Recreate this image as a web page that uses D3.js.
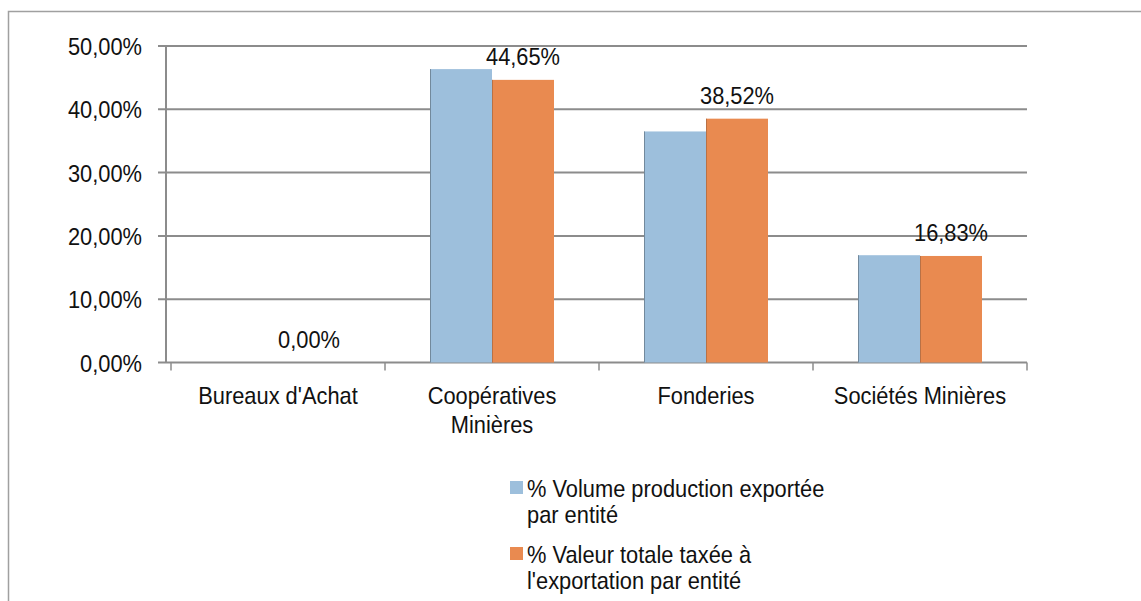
<!DOCTYPE html>
<html>
<head>
<meta charset="utf-8">
<script src="https://cdn.jsdelivr.net/npm/d3@7"></script>
<style>
  body { margin: 0; background: #fff; }
  svg { display: block; font-family: "Liberation Sans", Arial, sans-serif; }
</style>
</head>
<body>
<div id="chart"></div>
<script>
const categories = ["Bureaux d'Achat", "Coopératives\nMinières", "Fonderies", "Sociétés Minières"];
const volume = [0, 46.35, 36.5, 16.95];
const valeur = [0, 44.65, 38.52, 16.83];
const seriesNames = ["% Volume production exportée\npar entité", "% Valeur totale taxée à\nl'exportation par entité"];
const colors = ["#9dbfdc", "#e98a50"];
const yTicks = [0, 10, 20, 30, 40, 50];

const width = 1141, height = 601;
const svg = d3.select("#chart").append("svg")
  .attr("width", width).attr("height", height);

// text in the source is a bit narrow and tall
const fs = 24, sx = 0.91;
const place = (px, py) => `translate(${px},${py}) scale(${sx},1)`;

// outer frame (left + top only visible)
svg.append("path")
  .attr("d", `M8.5,${height} V11.5 H${width}`)
  .attr("fill", "none").attr("stroke", "#a0a0a0").attr("stroke-width", 1.5);

const x = d3.scaleBand().domain(d3.range(categories.length)).range([171, 1027]);
const y = d3.scaleLinear().domain([0, 50]).range([362.5, 46]);
const barW = 62;

const fmt = v => v.toFixed(2).replace(".", ",") + "%";

// gridlines + y ticks
svg.append("g").selectAll("line").data(yTicks).join("line")
  .attr("x1", 158).attr("x2", 1027)
  .attr("y1", d => y(d)).attr("y2", d => y(d))
  .attr("stroke", "#8c8c8c").attr("stroke-width", 2);

svg.append("g").selectAll("text").data(yTicks).join("text")
  .attr("transform", d => place(142, y(d) + 9))
  .attr("text-anchor", "end").attr("font-size", fs).attr("fill", "#111")
  .text(d => fmt(d));

// y axis line
svg.append("line").attr("x1", 166).attr("x2", 166)
  .attr("y1", y(50)).attr("y2", y(0))
  .attr("stroke", "#8c8c8c").attr("stroke-width", 2);

// category ticks
const catTicks = d3.range(categories.length + 1).map(i => 171 + i * x.bandwidth());
svg.append("g").selectAll("line").data(catTicks).join("line")
  .attr("x1", d => d).attr("x2", d => d)
  .attr("y1", y(0)).attr("y2", y(0) + 8)
  .attr("stroke", "#8c8c8c").attr("stroke-width", 1.5);

// bars
const series = [volume, valeur];
series.forEach((vals, s) => {
  svg.append("g").selectAll("rect").data(vals).join("rect")
    .attr("x", (d, i) => x(i) + x.bandwidth() / 2 - barW + s * barW)
    .attr("y", d => y(d))
    .attr("width", barW)
    .attr("height", d => y(0) - y(d))
    .attr("fill", colors[s]);
  // darker left edge
  svg.append("g").selectAll("line").data(vals.map((v, i) => [v, i]).filter(d => d[0] > 0)).join("line")
    .attr("x1", d => x(d[1]) + x.bandwidth() / 2 - barW + s * barW + 0.5)
    .attr("x2", d => x(d[1]) + x.bandwidth() / 2 - barW + s * barW + 0.5)
    .attr("y1", d => y(d[0])).attr("y2", y(0))
    .attr("stroke", s === 0 ? "#6e8496" : "#8a5a3c").attr("stroke-width", 1)
    .attr("opacity", s === 0 ? 0.9 : 0.5);
});

// value labels (second series)
svg.append("g").selectAll("text").data(valeur).join("text")
  .attr("transform", (d, i) => place(x(i) + x.bandwidth() / 2 + barW / 2, y(d) - 15))
  .attr("text-anchor", "middle").attr("font-size", fs).attr("fill", "#111")
  .text(d => fmt(d));

// category labels
const catG = svg.append("g").selectAll("text").data(categories).join("text")
  .attr("transform", (d, i) => place(x(i) + x.bandwidth() / 2, 404))
  .attr("text-anchor", "middle").attr("font-size", fs).attr("fill", "#111");
catG.selectAll("tspan").data(d => d.split("\n")).join("tspan")
  .attr("x", 0)
  .attr("dy", (d, i) => i === 0 ? 0 : 29)
  .text(d => d);

// legend
const leg = svg.append("g").selectAll("g").data(seriesNames).join("g")
  .attr("transform", (d, i) => `translate(510,${481 + i * 66})`);
leg.append("rect").attr("width", 13).attr("height", 13)
  .attr("fill", (d, i) => colors[i]);
const lt = leg.append("text").attr("transform", place(17, 16))
  .attr("font-size", fs).attr("fill", "#111");
lt.selectAll("tspan").data(d => d.split("\n")).join("tspan")
  .attr("x", 0).attr("dy", (d, i) => i === 0 ? 0 : 26)
  .text(d => d);
</script>
</body>
</html>
